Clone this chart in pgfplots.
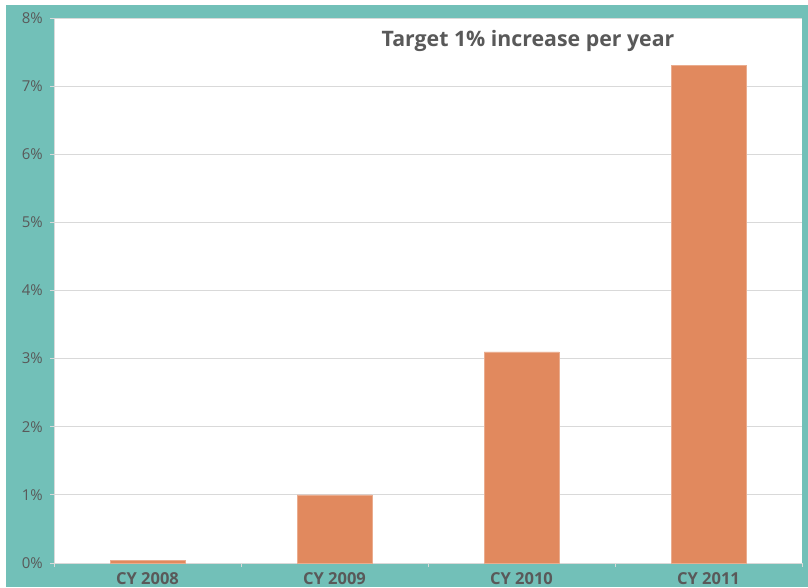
\documentclass[border=0pt]{standalone}
\usepackage{pgfplots}
\pgfplotsset{compat=1.18}
\usepackage{fontspec}
\setmainfont{Open Sans}
\definecolor{teal1}{RGB}{114,192,184}
\definecolor{bar1}{RGB}{225,137,94}
\definecolor{txt}{RGB}{89,89,89}
\definecolor{gridc}{RGB}{217,217,217}
\begin{document}
\begin{tikzpicture}[x=1pt,y=1pt]
\fill[white] (0,0) rectangle (808,587);
\fill[teal1] (6,0) rectangle (808,582);
\begin{axis}[
  at={(54pt,24pt)}, anchor=south west,
  scale only axis, width=748pt, height=545pt,
  axis background/.style={fill=white},
  xmin=0.5, xmax=4.5, ymin=0, ymax=8,
  axis lines*=left,
  axis line style={gridc, line width=1pt},
  xtick={1,2,3,4},
  xticklabels={CY 2008,CY 2009,CY 2010,CY 2011},
  minor xtick={0.5,1.5,2.5,3.5,4.5},
  major x tick style={draw=none},
  minor x tick style={gridc, line width=1pt},
  tick align=outside,
  minor tick length=4pt,
  major tick length=4pt,
  ytick={0,1,...,8},
  y tick style={gridc, line width=1pt},
  ymajorgrids, grid style={gridc, line width=0.8pt},
  yticklabel={\pgfmathprintnumber{\tick}\%},
  /pgf/number format/assume math mode=true,
  yticklabel style={font=\fontsize{15}{18}\selectfont, text=txt, inner sep=0pt, xshift=-7pt},
  xticklabel style={font=\fontsize{16.5}{19}\selectfont\bfseries, text=txt, inner sep=0pt, yshift=-5pt},
  clip=false,
]
\addplot[ybar, bar width=75pt, fill=bar1, draw=bar1!70!white, line width=0.5pt]
  coordinates {(1,0.04) (2,1.0) (3,3.1) (4,7.3)};
\end{axis}
\node[font=\fontsize{21.3}{25}\selectfont\bfseries, text=txt, anchor=base] at (528,540) {Target 1\% increase per year};
\end{tikzpicture}
\end{document}
